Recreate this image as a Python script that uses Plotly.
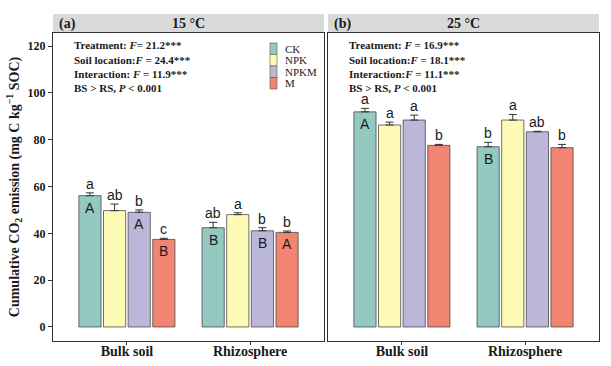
import plotly.graph_objects as go

# ---------------- data ----------------
locations = ["Bulk soil", "Rhizosphere"]
treatments = ["CK", "NPK", "NPKM", "M"]
colors = ["#93C9C1", "#FDFBB5", "#BCB7D8", "#F18571"]

# 15 °C panel (a)
mean_15 = {"CK": [56.1, 42.4], "NPK": [49.7, 48.0], "NPKM": [49.0, 41.1], "M": [37.4, 40.4]}
se_15 = {"CK": [1.2, 2.3], "NPK": [2.8, 0.8], "NPKM": [1.0, 1.3], "M": [0.5, 0.6]}
low_15 = {"CK": ["a", "ab"], "NPK": ["ab", "a"], "NPKM": ["b", "b"], "M": ["c", "b"]}
up_15 = {"CK": ["A", "B"], "NPK": ["", ""], "NPKM": ["A", "B"], "M": ["B", "A"]}

# 25 °C panel (b)
mean_25 = {"CK": [91.9, 77.0], "NPK": [86.3, 88.4], "NPKM": [88.4, 83.4], "M": [77.6, 76.6]}
se_25 = {"CK": [1.5, 1.9], "NPK": [1.2, 2.4], "NPKM": [2.1, 0.2], "M": [0.4, 1.4]}
low_25 = {"CK": ["a", "b"], "NPK": ["a", "a"], "NPKM": ["a", "ab"], "M": ["b", "b"]}
up_25 = {"CK": ["A", "B"], "NPK": ["", ""], "NPKM": ["", ""], "M": ["", ""]}

panel_titles = ["15 °C", "25 °C"]
panel_tags = ["(a)", "(b)"]
stats_15 = ["Treatment: <i>F</i>= 21.2***", "Soil location:<i>F</i> = 24.4***",
            "Interaction: <i>F</i> = 11.9***", "BS > RS, <i>P</i> < 0.001"]
stats_25 = ["Treatment: <i>F</i> = 16.9***", "Soil location:<i>F</i> = 18.1***",
            "Interaction:<i>F</i> = 11.1***", "BS > RS, <i>P</i> < 0.001"]
y_ticks = [0, 20, 40, 60, 80, 100, 120]

# ---------------- layout geometry (pixels) ----------------
W, H = 611, 366
SERIF = "Liberation Serif, Times New Roman, serif"
SANS = "Liberation Sans, Arial, sans-serif"
offsets = [-0.3, -0.1, 0.1, 0.3]
bar_w = 0.18

def px_x(p):
    return p / W

def px_y(p):
    return 1 - p / H

panels_px = [(53, 324), (328, 599)]
plot_top, plot_bot = 33, 341
strip_top = 14

fig = go.Figure()

panel_data = [(mean_15, se_15, low_15, up_15, stats_15), (mean_25, se_25, low_25, up_25, stats_25)]

annotations = []
shapes = []
for pi, (means, ses, lows, ups, stats) in enumerate(panel_data):
    xa = "x" if pi == 0 else "x2"
    ya = "y" if pi == 0 else "y2"
    for ti, t in enumerate(treatments):
        xs = [i + 1 + offsets[ti] for i in range(len(locations))]
        fig.add_trace(go.Bar(
            x=xs, y=means[t], width=bar_w, name=t, showlegend=False,
            marker=dict(color=colors[ti], line=dict(color="#4a4a4a", width=0.8)),
            error_y=dict(type="data", symmetric=False, array=ses[t],
                         arrayminus=[0] * len(ses[t]), color="#333333",
                         thickness=1, width=4),
            xaxis=xa, yaxis=ya,
        ))
        for li in range(len(locations)):
            top = means[t][li] + ses[t][li]
            annotations.append(dict(
                x=xs[li], y=top, xref=xa, yref=ya, text=lows[t][li], showarrow=False,
                xanchor="center", yanchor="bottom", yshift=-1,
                font=dict(family=SANS, size=14, color="#1a1a1a")))
            if ups[t][li]:
                annotations.append(dict(
                    x=xs[li], y=means[t][li], xref=xa, yref=ya, text=ups[t][li], showarrow=False,
                    xanchor="center", yanchor="top", yshift=-2,
                    font=dict(family=SANS, size=14, color="#1a1a1a")))
    # strip
    x0, x1 = panels_px[pi]
    shapes.append(dict(type="rect", xref="paper", yref="paper",
                       x0=px_x(x0), x1=px_x(x1), y0=px_y(plot_top), y1=px_y(strip_top),
                       fillcolor="#D9D9D9", line=dict(width=0), layer="below"))
    annotations.append(dict(x=px_x((x0 + x1) / 2), y=px_y((strip_top + plot_top) / 2),
                            xref="paper", yref="paper", text="<b>%s</b>" % panel_titles[pi],
                            xanchor="center", yanchor="middle", showarrow=False,
                            font=dict(family=SERIF, size=14, color="#1a1a1a")))
    annotations.append(dict(x=px_x(x0 + 4), y=px_y((strip_top + plot_top) / 2),
                            xref="paper", yref="paper", text="<b>%s</b>" % panel_tags[pi],
                            xanchor="left", yanchor="middle", showarrow=False,
                            font=dict(family=SERIF, size=14, color="#1a1a1a")))
    # stats text
    for si, s in enumerate(stats):
        annotations.append(dict(x=px_x(x0 + 19), y=px_y(45.5 + si * 14.3), xref="paper", yref="paper",
                                text="<b>%s</b>" % s, xanchor="left", yanchor="middle",
                                showarrow=False,
                                font=dict(family=SERIF, size=11, color="#1a1a1a")))

# legend (custom, in left panel)
key_x0, key_x1 = 270, 277
key_top, key_h = 43, 11.5
for ti, t in enumerate(treatments):
    y0 = key_top + ti * key_h
    shapes.append(dict(type="rect", xref="paper", yref="paper",
                       x0=px_x(key_x0), x1=px_x(key_x1), y0=px_y(y0 + key_h), y1=px_y(y0),
                       fillcolor=colors[ti], line=dict(color="#555555", width=0.6)))
    annotations.append(dict(x=px_x(283), y=px_y(y0 + key_h / 2), xref="paper", yref="paper",
                            text=t, xanchor="left", yanchor="middle", showarrow=False,
                            font=dict(family=SERIF, size=11, color="#1a1a1a")))

yrange = [-6, 125.6]
axis_common = dict(showline=True, mirror=True, linecolor="#333333", linewidth=1,
                   showgrid=False, zeroline=False)
xaxis_common = dict(range=[0.4, 2.6], tickvals=[1, 2],
                    ticktext=["<b>%s</b>" % l for l in locations], ticks="outside", ticklen=3,
                    tickcolor="#333333", tickfont=dict(family=SERIF, size=14, color="#1a1a1a"),
                    ticklabelstandoff=-6)
fig.update_layout(
    width=W, height=H, margin=dict(l=0, r=0, t=0, b=0),
    paper_bgcolor="white", plot_bgcolor="white", barmode="overlay", showlegend=False,
    xaxis=dict(domain=[px_x(53), px_x(324)], anchor="y", **xaxis_common, **axis_common),
    xaxis2=dict(domain=[px_x(328), px_x(599)], anchor="y2", **xaxis_common, **axis_common),
    yaxis=dict(domain=[px_y(plot_bot), px_y(plot_top)], range=yrange, tickvals=y_ticks,
               ticktext=["<b>%d</b>" % v for v in y_ticks], ticks="outside", ticklen=4,
               tickcolor="#333333", tickfont=dict(family=SERIF, size=12, color="#1a1a1a"),
               title=dict(text="<b>Cumulative CO<sub>2</sub> emission (mg C kg<sup>−1</sup> SOC)</b>",
                          font=dict(family=SERIF, size=14, color="#1a1a1a"), standoff=4),
               anchor="x", **axis_common),
    yaxis2=dict(domain=[px_y(plot_bot), px_y(plot_top)], range=yrange, showticklabels=False,
                ticks="", anchor="x2", **axis_common),
    annotations=annotations, shapes=shapes,
)

fig.write_html("out.html", config={"displayModeBar": False},
               post_script="document.body.style.margin='0px';document.body.style.overflow='hidden';")
